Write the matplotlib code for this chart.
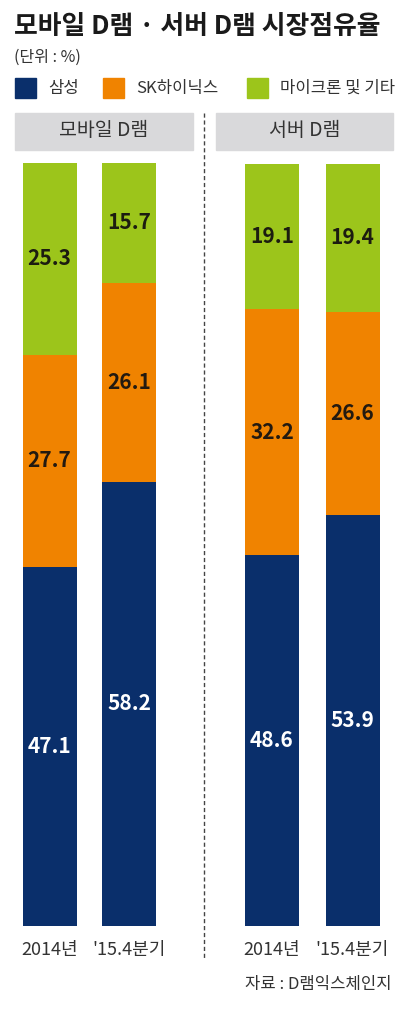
import matplotlib.pyplot as plt
from matplotlib.patches import Rectangle
from matplotlib.lines import Line2D

plt.rcParams['font.family'] = ['Noto Sans CJK KR', 'DejaVu Sans']

# Data
periods = ["2014년", "'15.4분기"]
series = ["삼성", "SK하이닉스", "마이크론 및 기타"]
mobile_samsung = [47.1, 58.2]
mobile_hynix = [27.7, 26.1]
mobile_others = [25.3, 15.7]
server_samsung = [48.6, 53.9]
server_hynix = [32.2, 26.6]
server_others = [19.1, 19.4]
panels = ["모바일 D램", "서버 D램"]

colors = ["#0a2f6b", "#f08300", "#9cc51b"]
text_colors = ["white", "#231a10", "#1c1c10"]

W, H = 407, 1024
fig = plt.figure(figsize=(W / 100, H / 100), dpi=100)


def fx(px):
    return px / W


def fy(py):
    return 1 - py / H


# Title and unit
fig.text(fx(14), fy(27), "모바일 D램 · 서버 D램 시장점유율", fontsize=18.6,
         fontweight='bold', color='#1a1a1a', va='center', ha='left')
fig.text(fx(14), fy(57), "(단위 : %)", fontsize=11.5, color='#333333',
         va='center', ha='left')

# Legend
legend_x = [15, 103, 247]
for i, name in enumerate(series):
    x0 = legend_x[i]
    fig.patches.append(Rectangle((fx(x0), fy(98)), fx(21), 20 / H,
                                 transform=fig.transFigure, color=colors[i]))
    fig.text(fx(x0 + 33), fy(88), name, fontsize=12, color='#333333',
             va='center', ha='left')

# Panels: header extents and bar centres in pixels
header_x = [(15, 193), (216, 393)]
bar_centers = [(49.5, 129), (272, 352.5)]
bar_w_px = 54
y_top, y_bot = 163, 926

panel_data = [
    (mobile_samsung, mobile_hynix, mobile_others),
    (server_samsung, server_hynix, server_others),
]

for p in range(2):
    hx0, hx1 = header_x[p]
    fig.patches.append(Rectangle((fx(hx0), fy(150)), fx(hx1 - hx0), 37 / H,
                                 transform=fig.transFigure, color='#d9d9db'))
    fig.text(fx((hx0 + hx1) / 2), fy(131), panels[p], fontsize=14,
             color='#333333', va='center', ha='center')

    c0, c1 = bar_centers[p]
    unit = c1 - c0
    ax = fig.add_axes([fx(hx0), fy(y_bot), fx(hx1 - hx0), (y_bot - y_top) / H])
    ax.set_xlim((hx0 - c0) / unit, (hx1 - c0) / unit)
    ax.set_ylim(0, 100)
    ax.axis('off')

    x = range(len(periods))
    bottom = [0, 0]
    for s, vals in enumerate(panel_data[p]):
        ax.bar(x, vals, width=bar_w_px / unit, bottom=bottom, color=colors[s],
               edgecolor='none')
        for i, v in enumerate(vals):
            ax.text(i, bottom[i] + v / 2, f"{v:.1f}", ha='center', va='center',
                    fontsize=15, fontweight='bold', color=text_colors[s])
        bottom = [b + v for b, v in zip(bottom, vals)]

    for i, lab in enumerate(periods):
        ax.text(i, -3.2, lab, ha='center', va='center', fontsize=13,
                color='#333333', clip_on=False)

# Dashed divider
fig.lines.append(Line2D([fx(204), fx(204)], [fy(113), fy(960)],
                        transform=fig.transFigure, color='#444444', lw=1,
                        linestyle=(0, (3, 2))))

# Source
fig.text(fx(392), fy(985), "자료 : D램익스체인지", fontsize=12, color='#333333',
         va='center', ha='right')

fig.savefig("out.png", dpi=100, facecolor='white')
